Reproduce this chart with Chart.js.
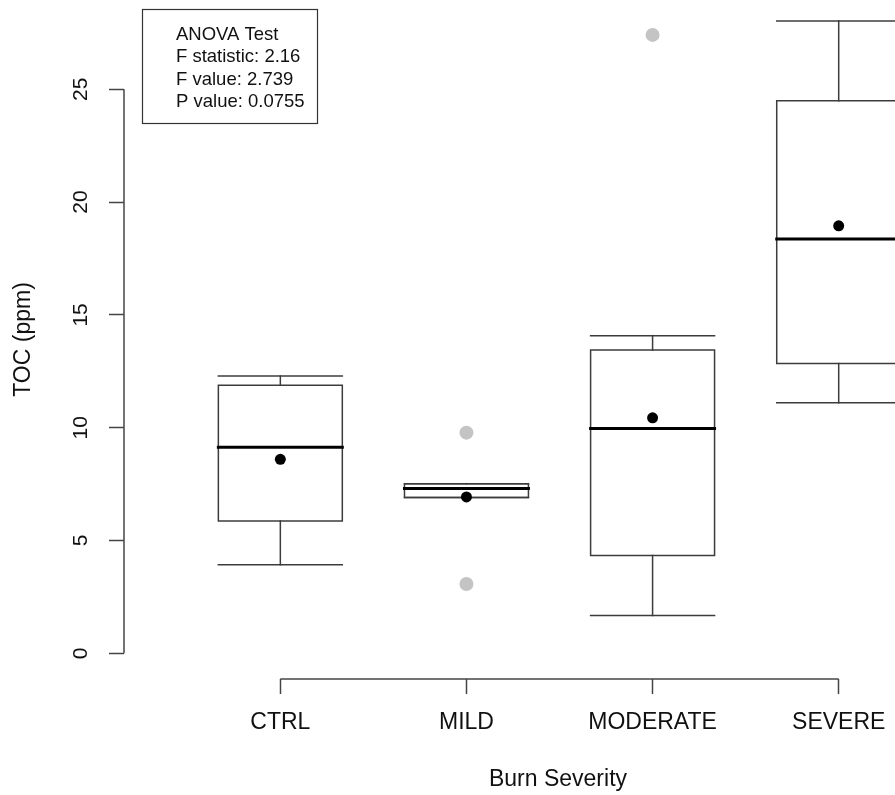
<!DOCTYPE html>
<html>
<head>
<meta charset="utf-8">
<script src="https://cdn.jsdelivr.net/npm/chart.js@4.4.1/dist/chart.umd.min.js"></script>
<style>
html,body{margin:0;padding:0;background:#fff;overflow:hidden}
#wrap{width:895px;height:795px}
</style>
</head>
<body>
<div id="wrap"><canvas id="c" width="895" height="795"></canvas></div>
<script>
// ---- data ----
const categories = ['CTRL', 'MILD', 'MODERATE', 'SEVERE'];
const whiskerLow  = [3.93, 6.91, 1.68, 11.11];
const q1          = [5.86, 6.91, 4.34, 12.85];
const medians     = [9.13, 7.31, 9.97, 18.36];
const q3          = [11.88, 7.52, 13.44, 24.49];
const whiskerHigh = [12.29, 7.52, 14.08, 28.03];
const means       = [8.60, 6.93, 10.44, 18.95];
const outlierCategory = [2, 2, 3];
const outlierValues   = [9.78, 3.07, 27.41];
const yTicks = [0, 5, 10, 15, 20, 25];
const anovaLines = ['ANOVA Test', 'F statistic: 2.16', 'F value: 2.739', 'P value: 0.0755'];
const xTitle = 'Burn Severity';
const yTitle = 'TOC (ppm)';

// ---- style ----
const FAMILY = '"Liberation Sans", Arial, Helvetica, sans-serif';
const LINE = '#3c3c3c';
const BOX_HALF = 0.333;

function seg(points, color, width) {
  return {
    data: points, showLine: true, borderColor: color, borderWidth: width,
    pointRadius: 0, pointHoverRadius: 0, fill: false, tension: 0,
    borderCapStyle: 'square', borderJoinStyle: 'miter'
  };
}

const datasets = [];
// means (top)
datasets.push({
  data: means.map((m, i) => ({x: i + 1, y: m})),
  pointRadius: 5.5, pointBackgroundColor: '#000', pointBorderWidth: 0, showLine: false
});
// outliers
datasets.push({
  data: outlierValues.map((v, k) => ({x: outlierCategory[k], y: v})),
  pointRadius: 7, pointBackgroundColor: '#c4c4c4', pointBorderWidth: 0, showLine: false
});
// medians
medians.forEach((m, i) => {
  const c = i + 1;
  datasets.push(seg([{x: c - BOX_HALF, y: m}, {x: c + BOX_HALF, y: m}], '#000', 3));
});
// boxes
q1.forEach((lo, i) => {
  const c = i + 1, hi = q3[i];
  datasets.push(seg([
    {x: c - BOX_HALF, y: lo}, {x: c + BOX_HALF, y: lo},
    {x: c + BOX_HALF, y: hi}, {x: c - BOX_HALF, y: hi},
    {x: c - BOX_HALF, y: lo}
  ], LINE, 1.5));
});
// whiskers and caps
categories.forEach((_, i) => {
  const c = i + 1;
  datasets.push(seg([{x: c, y: q3[i]}, {x: c, y: whiskerHigh[i]}], LINE, 1.5));
  datasets.push(seg([{x: c, y: q1[i]}, {x: c, y: whiskerLow[i]}], LINE, 1.5));
  datasets.push(seg([{x: c - BOX_HALF, y: whiskerHigh[i]}, {x: c + BOX_HALF, y: whiskerHigh[i]}], LINE, 1.5));
  datasets.push(seg([{x: c - BOX_HALF, y: whiskerLow[i]}, {x: c + BOX_HALF, y: whiskerLow[i]}], LINE, 1.5));
});

const decor = {
  id: 'decor',
  afterDraw(chart) {
    const {ctx, chartArea, scales: {x, y}} = chart;
    ctx.save();
    ctx.strokeStyle = '#444';
    ctx.lineWidth = 1.5;
    const ax = chartArea.left;
    ctx.beginPath();
    ctx.moveTo(ax, y.getPixelForValue(yTicks[0]));
    ctx.lineTo(ax, y.getPixelForValue(yTicks[yTicks.length - 1]));
    ctx.stroke();
    const ay = chartArea.bottom;
    ctx.beginPath();
    ctx.moveTo(x.getPixelForValue(1), ay);
    ctx.lineTo(x.getPixelForValue(categories.length), ay);
    ctx.stroke();
    // x title
    ctx.fillStyle = '#111';
    ctx.font = '23px ' + FAMILY;
    ctx.textAlign = 'center';
    ctx.textBaseline = 'middle';
    ctx.fillText(xTitle, chartArea.left + 434, chart.height - 15);
    // ANOVA box
    ctx.lineWidth = 1.2;
    ctx.strokeStyle = '#333';
    ctx.strokeRect(142.5, 9.5, 175, 114);
    ctx.font = '18.5px ' + FAMILY;
    ctx.textAlign = 'left';
    ctx.textBaseline = 'alphabetic';
    anovaLines.forEach((t, i) => ctx.fillText(t, 176, 40 + i * 22.45));
    ctx.restore();
  }
};

function noPad(s) {
  s.paddingLeft = 0; s.paddingRight = 0; s.paddingTop = 0; s.paddingBottom = 0;
}

new Chart(document.getElementById('c'), {
  type: 'scatter',
  data: {datasets},
  plugins: [decor],
  options: {
    responsive: false,
    animation: false,
    devicePixelRatio: 1,
    events: [],
    layout: {padding: 0, autoPadding: false},
    plugins: {legend: {display: false}, tooltip: {enabled: false}},
    scales: {
      x: {
        type: 'linear', min: 0.16, max: 4.3025,
        afterBuildTicks: a => { a.ticks = categories.map((c, i) => ({value: i + 1})); },
        afterFit: s => { s.height = 116; noPad(s); },
        ticks: {
          callback: (v, i) => categories[i],
          font: {size: 23, family: FAMILY}, color: '#111', padding: 15,
          autoSkip: false, maxRotation: 0, minRotation: 0
        },
        grid: {display: true, drawOnChartArea: false, drawTicks: true, tickLength: 15, tickColor: '#444', tickWidth: 1.5},
        border: {display: false}
      },
      y: {
        type: 'linear', min: -1.139, max: 28.958,
        afterBuildTicks: a => { a.ticks = yTicks.map(v => ({value: v})); },
        afterFit: s => { s.width = 124; noPad(s); },
        ticks: {
          font: {size: 21, family: FAMILY}, color: '#111', padding: 16,
          minRotation: 90, maxRotation: 90, crossAlign: 'center', autoSkip: false
        },
        grid: {display: true, drawOnChartArea: false, drawTicks: true, tickLength: 15, tickColor: '#444', tickWidth: 1.5},
        border: {display: false},
        title: {display: true, text: yTitle, font: {size: 23, family: FAMILY}, color: '#111', padding: {top: 10, bottom: 0}}
      }
    }
  }
});
</script>
</body>
</html>
